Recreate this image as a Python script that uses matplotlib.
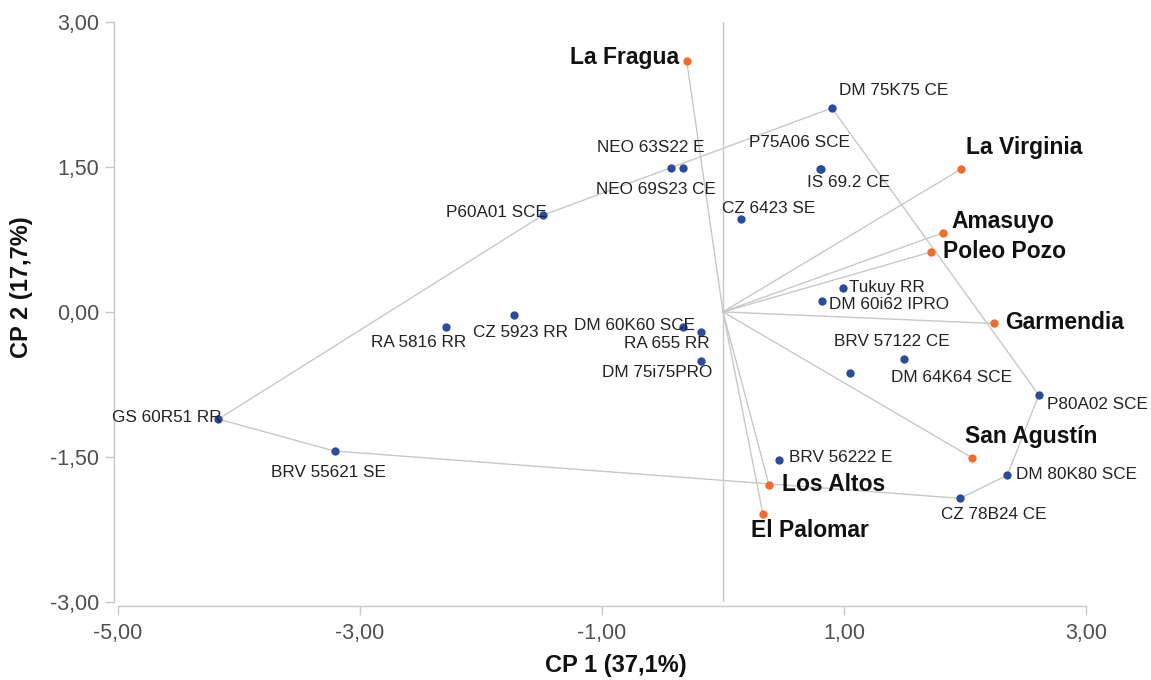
import numpy as np
import matplotlib
matplotlib.use("Agg")
import matplotlib.pyplot as plt
from matplotlib.ticker import FuncFormatter

# genotypes (blue)
gen_names = ["DM 75K75 CE", "P75A06 SCE", "IS 69.2 CE", "NEO 63S22 E", "NEO 69S23 CE",
             "P60A01 SCE", "CZ 6423 SE", "Tukuy RR", "DM 60i62 IPRO", "BRV 57122 CE",
             "DM 64K64 SCE", "P80A02 SCE", "DM 80K80 SCE", "CZ 78B24 CE", "BRV 56222 E",
             "GS 60R51 RR", "BRV 55621 SE", "RA 5816 RR", "CZ 5923 RR", "DM 60K60 SCE",
             "RA 655 RR", "DM 75i75PRO"]
gen_x = [0.90, 0.80, 0.81, -0.43, -0.33, -1.49, 0.15, 0.99, 0.82, 1.05,
         1.50, 2.61, 2.35, 1.96, 0.46, -4.17, -3.21, -2.29, -1.73, -0.33,
         -0.18, -0.18]
gen_y = [2.11, 1.48, 1.48, 1.49, 1.49, 1.00, 0.96, 0.25, 0.11, -0.63,
         -0.49, -0.86, -1.69, -1.93, -1.53, -1.11, -1.44, -0.16, -0.03, -0.16,
         -0.21, -0.51]

# environments (orange)
env_names = ["La Fragua", "La Virginia", "Amasuyo", "Poleo Pozo", "Garmendia",
             "San Agustín", "Los Altos", "El Palomar"]
env_x = [-0.30, 1.97, 1.82, 1.72, 2.24, 2.06, 0.38, 0.33]
env_y = [2.60, 1.48, 0.82, 0.62, -0.12, -1.51, -1.79, -2.09]

# polygon (convex hull of genotypes)
hull = ["GS 60R51 RR", "P60A01 SCE", "DM 75K75 CE", "P80A02 SCE", "DM 80K80 SCE",
        "CZ 78B24 CE", "BRV 55621 SE", "GS 60R51 RR"]

# label offsets in pixels (dx, dy, ha)
gen_lab = {
    "DM 75K75 CE": (7, 18, "left"), "P75A06 SCE": (30, 26, "right"),
    "IS 69.2 CE": (-14, -14, "left"), "NEO 63S22 E": (34, 20, "right"),
    "NEO 69S23 CE": (33, -22, "right"), "P60A01 SCE": (4, 3, "right"),
    "CZ 6423 SE": (-19, 11, "left"), "Tukuy RR": (6, 0, "left"),
    "DM 60i62 IPRO": (7, -3, "left"), "BRV 57122 CE": (-16, 31, "left"),
    "DM 64K64 SCE": (-13, -18, "left"), "P80A02 SCE": (8, -10, "left"),
    "DM 80K80 SCE": (9, 1, "left"), "CZ 78B24 CE": (-19, -16, "left"),
    "BRV 56222 E": (10, 2, "left"), "GS 60R51 RR": (3, 2, "right"),
    "BRV 55621 SE": (-6, -21, "center"), "RA 5816 RR": (20, -15, "right"),
    "CZ 5923 RR": (-41, -18, "left"), "DM 60K60 SCE": (12, 2, "right"),
    "RA 655 RR": (8, -11, "right"), "DM 75i75PRO": (11, -11, "right"),
}
env_lab = {
    "La Fragua": (-8, 3, "right"), "La Virginia": (5, 21, "left"),
    "Amasuyo": (8, 11, "left"), "Poleo Pozo": (12, 0, "left"),
    "Garmendia": (11, 1, "left"), "San Agustín": (-7, 21, "left"),
    "Los Altos": (13, 0, "left"), "El Palomar": (-12, -17, "left"),
}

blue = "#2b4c9b"
orange = "#f26b2f"
grey = "#c8c8c8"

plt.rcParams["font.family"] = ["Liberation Sans", "DejaVu Sans"]

fig = plt.figure(figsize=(11.51, 6.8), dpi=100)
ax = fig.add_axes([0.1025, 0.1151, 0.841, 0.8525])

# axis through origin
ax.plot([0, 0], [-3, 3], color=grey, lw=1.0, zorder=1)

# hull
pos = dict(zip(gen_names, zip(gen_x, gen_y)))
hx = [pos[n][0] for n in hull]
hy = [pos[n][1] for n in hull]
ax.plot(hx, hy, color=grey, lw=1.0, zorder=1)

# environment vectors
for x, y in zip(env_x, env_y):
    ax.plot([0, x], [0, y], color=grey, lw=1.0, zorder=1)

ax.scatter(gen_x, gen_y, s=36, color=blue, zorder=3, linewidths=0)
ax.scatter(env_x, env_y, s=36, color=orange, zorder=3, linewidths=0)

for n, x, y in zip(gen_names, gen_x, gen_y):
    dx, dy, ha = gen_lab[n]
    ax.annotate(n, (x, y), xytext=(dx, dy), textcoords="offset pixels",
                ha=ha, va="center", fontsize=12.3, color="#222222")
for n, x, y in zip(env_names, env_x, env_y):
    dx, dy, ha = env_lab[n]
    ax.annotate(n, (x, y), xytext=(dx, dy), textcoords="offset pixels",
                ha=ha, va="center", fontsize=16.5, fontweight="bold", color="#111111")

ax.set_xlim(-5, 3)
ax.set_ylim(-3, 3)
ax.set_xticks([-5, -3, -1, 1, 3])
ax.set_yticks([-3, -1.5, 0, 1.5, 3])
fmt = FuncFormatter(lambda v, p: ("%.2f" % v).replace(".", ","))
ax.xaxis.set_major_formatter(fmt)
ax.yaxis.set_major_formatter(fmt)

for s in ["top", "right"]:
    ax.spines[s].set_visible(False)
for s in ["left", "bottom"]:
    ax.spines[s].set_color(grey)
    ax.spines[s].set_linewidth(1.0)
    ax.spines[s].set_position(("outward", 3))
ax.tick_params(direction="out", length=6.5, width=1.0, color=grey,
               labelsize=15.5, labelcolor="#505050")
ax.tick_params(axis="x", pad=6)
ax.tick_params(axis="y", pad=4)

fig.text(0.535, 0.022, "CP 1 (37,1%)", ha="center", va="center",
         fontsize=17, fontweight="bold", color="#111111")
fig.text(0.019, 0.578, "CP 2 (17,7%)", ha="center", va="center", rotation=90,
         fontsize=17, fontweight="bold", color="#111111")

fig.savefig("out.png", dpi=100)
